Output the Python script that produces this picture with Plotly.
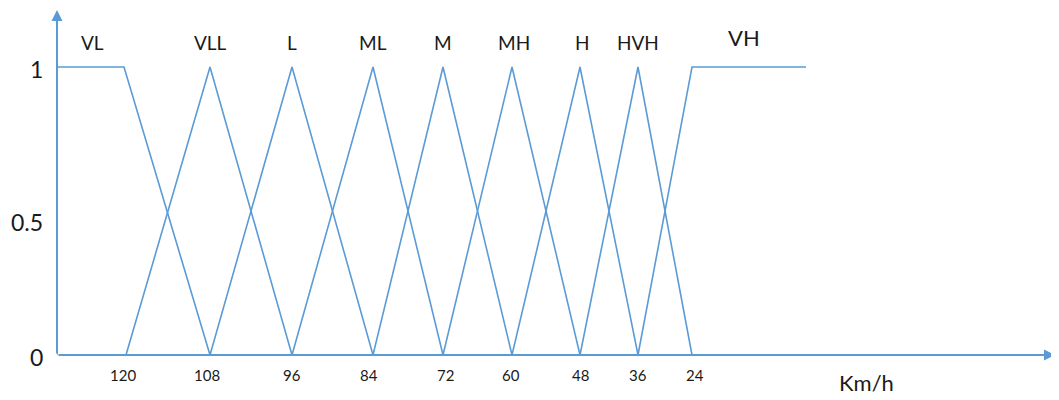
import plotly.graph_objects as go

# ---- data (x in axis units along the horizontal speed axis, y = membership) ----
sets = ["VL", "VLL", "L", "ML", "M", "MH", "H", "HVH", "VH"]
set_x = [
    [0, 0, 67, 153],
    [69, 153, 235],
    [153, 235, 316],
    [235, 316, 386],
    [316, 386, 455],
    [386, 455, 523],
    [455, 523, 581],
    [523, 581, 635],
    [581, 635, 749],
]
set_y = [
    [0, 1, 1, 0],
    [0, 1, 0],
    [0, 1, 0],
    [0, 1, 0],
    [0, 1, 0],
    [0, 1, 0],
    [0, 1, 0],
    [0, 1, 0],
    [0, 1, 1],
]
label_x = [35, 153, 235, 316, 386, 457, 525, 581, 687]
speed_ticks = ["120", "108", "96", "84", "72", "60", "48", "36", "24"]
speed_tick_pos = [66, 150, 235, 312, 388, 454, 523, 581, 638]
y_ticks = [1, 0.5, 0]
y_tick_text = ["1", "0.5", "0"]
x_title = "Km/h"

BLUE = "#5B9BD5"
FONT = "Lato"
TXT = "#1a1a1a"
X_MAX = 1002
Y_MAX = 345 / 288

fig = go.Figure()
for name, xs, ys in zip(sets, set_x, set_y):
    fig.add_trace(go.Scatter(x=xs, y=ys, mode="lines", name=name,
                             line=dict(color=BLUE, width=1.6), hoverinfo="skip"))

ann = []
# axes with arrows
ann.append(dict(x=998, y=0, ax=0, ay=0, xref="x", yref="y", axref="x", ayref="y",
                showarrow=True, arrowhead=2, arrowsize=1.1, arrowwidth=2, arrowcolor=BLUE, text=""))
ann.append(dict(x=0, y=Y_MAX, ax=0, ay=0, xref="x", yref="y", axref="x", ayref="y",
                showarrow=True, arrowhead=2, arrowsize=1.1, arrowwidth=2, arrowcolor=BLUE, text=""))
# set labels
for name, lx in zip(sets, label_x):
    big = name == "VH"
    ann.append(dict(x=lx, y=1, xref="x", yref="y", text=name, showarrow=False,
                    yshift=30 if big else 25, font=dict(family=FONT, size=22 if big else 19, color=TXT)))
# x tick labels
for t, p in zip(speed_ticks, speed_tick_pos):
    ann.append(dict(x=p, y=0, xref="x", yref="y", text=t, showarrow=False, yshift=-20,
                    font=dict(family=FONT, size=15, color=TXT)))
# y tick labels (placed in paper x so they are not hidden outside the x range)
for v, t in zip(y_ticks, y_tick_text):
    ann.append(dict(x=-12 / X_MAX, y=v, xref="paper", yref="y", text=t, showarrow=False, xanchor="right",
                    yshift=-11 if v == 0.5 else -2, font=dict(family=FONT, size=23, color=TXT)))
ann.append(dict(x=809, y=0, xref="x", yref="y", text=x_title, showarrow=False, yshift=-27,
                font=dict(family=FONT, size=22, color=TXT)))

fig.update_layout(
    width=1051, height=392,
    margin=dict(l=49, r=0, t=2, b=45, autoexpand=False),
    paper_bgcolor="white", plot_bgcolor="white",
    showlegend=False,
    xaxis=dict(range=[0, X_MAX], visible=False, fixedrange=True),
    yaxis=dict(range=[0, Y_MAX], visible=False, fixedrange=True),
    annotations=ann,
)
fig.write_html("out.html")
